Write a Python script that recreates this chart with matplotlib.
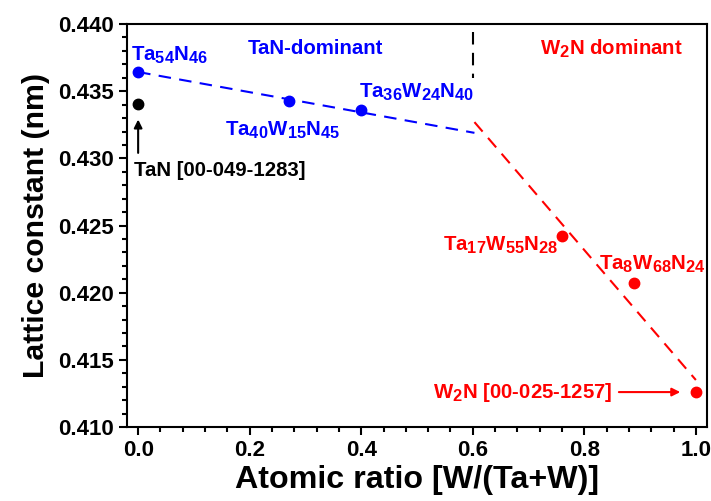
import matplotlib
matplotlib.use("Agg")
import matplotlib.pyplot as plt
from matplotlib.ticker import MultipleLocator

try:
    # slightly larger subscripts, as in the original figure
    import matplotlib._mathtext as _mt
    _mt.SHRINK_FACTOR = 0.8
    _mt.FontConstantsBase.sub1 = 0.35
except Exception:
    pass

plt.rcParams["font.family"] = ["Liberation Sans", "DejaVu Sans"]
plt.rcParams["font.weight"] = "bold"
plt.rcParams["mathtext.fontset"] = "custom"
plt.rcParams["mathtext.rm"] = "Liberation Sans:bold"
plt.rcParams["mathtext.bf"] = "Liberation Sans:bold"
plt.rcParams["mathtext.it"] = "Liberation Sans:bold"

# measured films
tan_x = [0.0, 0.271, 0.40]
tan_y = [0.43643, 0.43427, 0.4336]
w2n_x = [0.76, 0.889, 1.0]
w2n_y = [0.42422, 0.42072, 0.41260]
# reference TaN
ref_x = [0.0]
ref_y = [0.43404]

# guide lines
blue_fit_x = [0.0, 0.603]
blue_fit_y = [0.43643, 0.4319]
red_fit_x = [0.603, 1.0]
red_fit_y = [0.4327, 0.4135]
divider_x = [0.6, 0.6]
divider_y = [0.4394, 0.4360]

BLUE = "#0000ff"
RED = "#ff0000"

fig = plt.figure(figsize=(7.11, 5.01), dpi=100)
ax = fig.add_axes([0.1786, 0.1477, 0.8158, 0.8043])

ax.plot(blue_fit_x, blue_fit_y, color=BLUE, lw=1.5, dashes=(6, 4))
ax.plot(red_fit_x, red_fit_y, color=RED, lw=1.5, dashes=(6, 4))
ax.plot(divider_x, divider_y, color="black", lw=1.5, dashes=(6, 4))

ax.plot(tan_x, tan_y, "o", color=BLUE, ms=7.5, zorder=5)
ax.plot(w2n_x, w2n_y, "o", color=RED, ms=7.5, zorder=5)
ax.plot(ref_x, ref_y, "o", color="black", ms=7.5, zorder=5)

fs = 14.7
ax.text(-0.012, 0.43769, r"$\mathrm{Ta_{54}N_{46}}$", color=BLUE, fontsize=fs, va="center")
ax.text(0.317, 0.4382, "TaN-dominant", color=BLUE, fontsize=fs, ha="center", va="center")
ax.text(0.396, 0.4349, r"$\mathrm{Ta_{36}W_{24}N_{40}}$", color=BLUE, fontsize=fs, va="center")
ax.text(0.156, 0.4321, r"$\mathrm{Ta_{40}W_{15}N_{45}}$", color=BLUE, fontsize=fs, va="center")
ax.text(-0.007, 0.4291, "TaN [00-049-1283]", color="black", fontsize=fs, va="center")
ax.annotate("", xy=(0.0, 0.4331), xytext=(0.0, 0.4302),
            arrowprops=dict(arrowstyle="-|>", color="black", lw=1.5, mutation_scale=12))

ax.text(0.848, 0.4382, r"$\mathrm{W_2N}$ dominant", color=RED, fontsize=fs, ha="center", va="center")
ax.text(0.753, 0.42355, r"$\mathrm{Ta_{17}W_{55}N_{28}}$", color=RED, fontsize=fs, ha="right", va="center")
ax.text(0.826, 0.42213, r"$\mathrm{Ta_8W_{68}N_{24}}$", color=RED, fontsize=fs, va="center")
ax.text(0.529, 0.4126, r"$\mathrm{W_2N}$ [00-025-1257]", color=RED, fontsize=fs, va="center")
ax.annotate("", xy=(0.977, 0.4126), xytext=(0.857, 0.4126),
            arrowprops=dict(arrowstyle="-|>", color=RED, lw=1.5, mutation_scale=12))

ax.set_xlim(-0.02, 1.02)
ax.set_ylim(0.410, 0.440)
ax.xaxis.set_major_locator(MultipleLocator(0.2))
ax.xaxis.set_minor_locator(MultipleLocator(0.04))
ax.yaxis.set_major_locator(MultipleLocator(0.005))
ax.yaxis.set_minor_locator(MultipleLocator(0.001))
ax.xaxis.set_major_formatter(plt.FormatStrFormatter("%.1f"))
ax.yaxis.set_major_formatter(plt.FormatStrFormatter("%.3f"))
ax.tick_params(which="major", direction="out", length=6, width=1.5, labelsize=16)
ax.tick_params(which="minor", direction="out", length=3.5, width=1.5)
for s in ax.spines.values():
    s.set_linewidth(1.5)

ax.set_xlabel("Atomic ratio [W/(Ta+W)]", fontsize=23.2, fontweight="bold", labelpad=3)
ax.set_ylabel("Lattice constant (nm)", fontsize=21.8, fontweight="bold", labelpad=6)

fig.savefig("out.png", dpi=100)
